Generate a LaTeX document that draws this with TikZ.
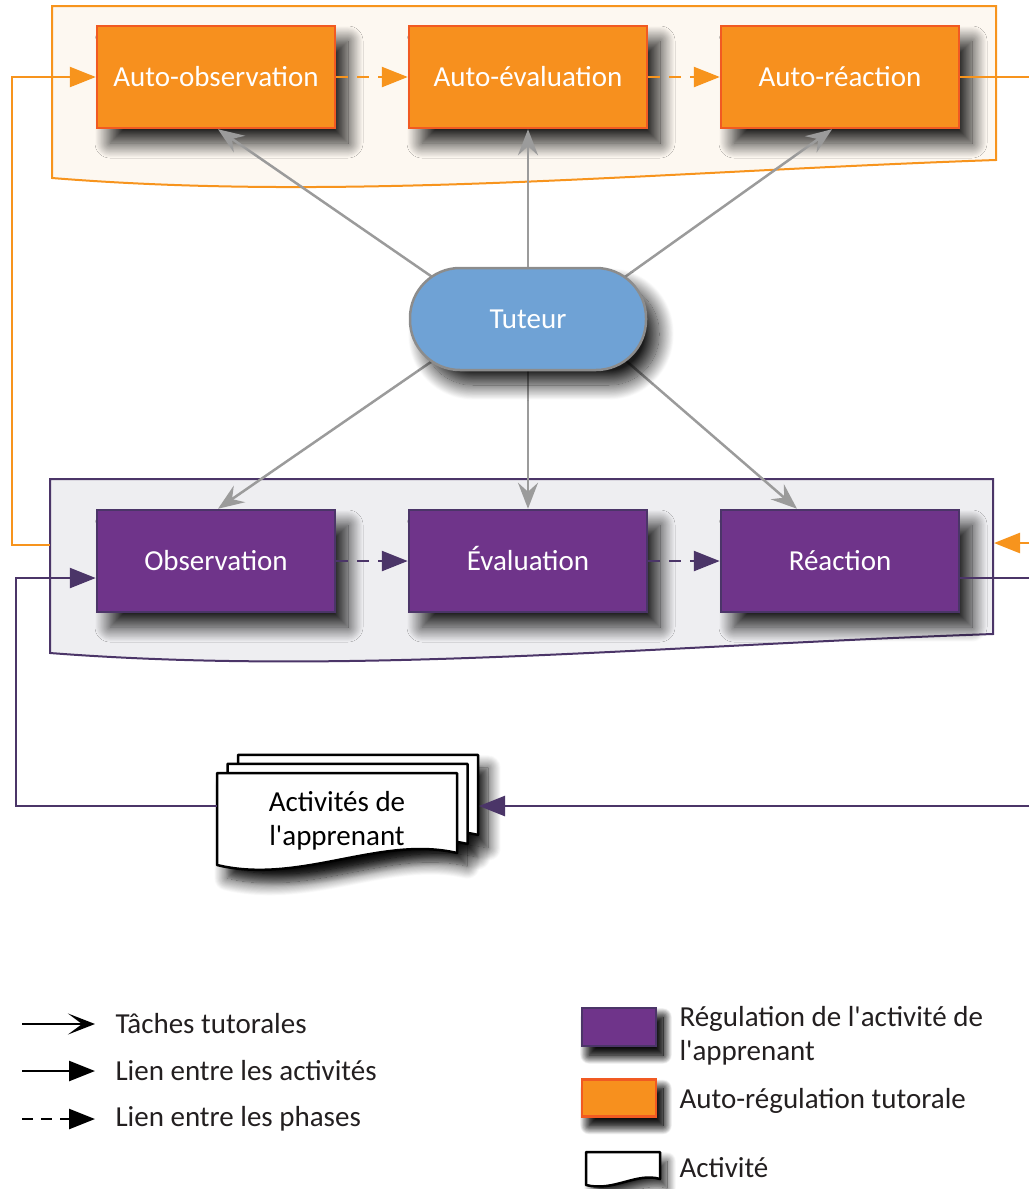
\documentclass[tikz,border=0pt]{standalone}
\usepackage{fontspec}
\newfontfamily\carlito{Carlito}
\usepackage{tikz}
\usetikzlibrary{arrows.meta,shadows.blur}

\definecolor{autofill}{HTML}{F7901E}
\definecolor{autoborder}{HTML}{F15A22}
\definecolor{autoline}{HTML}{F7941D}
\definecolor{autoback}{HTML}{FDF8F1}
\definecolor{regfill}{HTML}{6F348A}
\definecolor{regborder}{HTML}{4B3568}
\definecolor{regback}{HTML}{EEEEF1}
\definecolor{tutfill}{HTML}{6FA2D5}
\definecolor{tutborder}{HTML}{8C8C8C}
\definecolor{tachegray}{HTML}{9B9B9B}
\definecolor{legtextcol}{HTML}{231F20}

\tikzset{
  boxshade/.style={blur shadow={shadow xshift=13pt,shadow yshift=-15pt,shadow blur radius=15pt,
    shadow blur steps=25,shadow opacity=90}},
  autobox/.style={draw=autoborder,fill=autofill,line width=2.5pt,text=white,
    minimum width=238pt,minimum height=102pt,text height=19pt,text depth=0pt,boxshade},
  regbox/.style={draw=regborder,fill=regfill,line width=2.5pt,text=white,
    minimum width=238pt,minimum height=102pt,text height=19pt,text depth=0pt,boxshade},
  tutbox/.style={draw=tutborder,fill=tutfill,line width=2.5pt,text=white,
    minimum width=236pt,minimum height=102pt,rounded corners=50pt,boxshade},
  smallshade/.style={blur shadow={shadow xshift=7pt,shadow yshift=-9pt,shadow blur radius=9pt,
    shadow blur steps=20,shadow opacity=85}},
  docpage/.style={draw=black,fill=white,line width=2.5pt,line join=round},
  docshade/.style={blur shadow={shadow xshift=10pt,shadow yshift=-13pt,shadow blur radius=13pt,
    shadow blur steps=25,shadow opacity=85}},
  tache/.style={draw=tachegray,line width=2.5pt,-{Stealth[length=26pt,width=20pt,inset=9pt,fill=tachegray]}},
  lienauto/.style={draw=autoline,line width=2.5pt,-{Triangle[length=26pt,width=20pt,fill=autoline]}},
  lienreg/.style={draw=regborder,line width=2.5pt,-{Triangle[length=26pt,width=20pt,fill=regborder]}},
  phaseauto/.style={lienauto,dash pattern=on 12pt off 9pt},
  phasereg/.style={lienreg,dash pattern=on 12pt off 9pt},
  legline/.style={draw=black,line width=2.5pt},
  legtext/.style={anchor=west,align=left,text=legtextcol}
}

\begin{document}
\begin{tikzpicture}[x=1pt,y=-1pt,font=\carlito\fontsize{29}{34}\selectfont]
\useasboundingbox (0,0) rectangle (1029,1189);

% Containers
\filldraw[draw=autoline,fill=autoback,line width=2pt]
  (52,6) -- (996,6) -- (996,160) .. controls (650,172) and (350,202) .. (52,178) -- cycle;
\filldraw[draw=regborder,fill=regback,line width=2pt]
  (50,479) -- (993,479) -- (993,634) .. controls (650,646) and (350,676) .. (50,653) -- cycle;
\coordinate (boxL) at (50,545);
\coordinate (boxR) at (994,543);

% Auto-regulation phases
\node[autobox] (aobs) at (216,77) {Auto-observation};
\node[autobox] (aeva) at (528,77) {Auto-évaluation};
\node[autobox] (area) at (840,77) {Auto-réaction};

% Regulation phases
\node[regbox] (obs) at (216,561) {Observation};
\node[regbox] (eva) at (528,561) {Évaluation};
\node[regbox] (rea) at (840,561) {Réaction};

% Tutor tasks
\coordinate (tutc) at (528,319);
\draw[tache] ([xshift=-58pt,yshift=16pt]tutc) -- ([xshift=2pt]aobs.south);
\draw[tache] (tutc) -- (aeva.south);
\draw[tache] ([xshift=59pt,yshift=15pt]tutc) -- ([xshift=-8pt]area.south);
\draw[tache] ([xshift=-58pt,yshift=-16pt]tutc) -- ([xshift=2pt]obs.north);
\draw[tache] (tutc) -- (eva.north);
\draw[tache] ([xshift=59pt,yshift=-8pt]tutc) -- ([xshift=-43pt]rea.north);

% Tutor
\node[tutbox] (tut) at (tutc) {Tuteur};

% Links between phases
\draw[phaseauto] (aobs) -- (aeva);
\draw[phaseauto] (aeva) -- (area);
\draw[phasereg] (obs) -- (eva);
\draw[phasereg] (eva) -- (rea);

% Learner activities
\foreach \s in {21,10.5,0}
  \path[docshade,shift={(\s,-0.86*\s)}]
    (217,773) -- (457,773) -- (457,853) .. controls (380,835) and (300,885) .. (217,865) -- cycle;
\foreach \s in {21,10.5,0}
  \filldraw[docpage,shift={(\s,-0.86*\s)}]
    (217,773) -- (457,773) -- (457,853) .. controls (380,835) and (300,885) .. (217,865) -- cycle;
\node[align=center,minimum width=240pt,minimum height=92pt] (act) at (337,821) {Activités de\\l'apprenant};
\coordinate (docR) at (479,806);

% Links between activities
\coordinate (loopA) at (12,545);
\coordinate (loopB) at (16,806);
\coordinate (outA) at (1029,77);
\coordinate (outB) at (1029,543);
\coordinate (outC) at (1029,578);
\coordinate (outD) at (1029,806);
\draw[lienauto] (boxL) -- (loopA) |- (aobs.west);
\draw[draw=autoline,line width=2.5pt] (area.east) -- (outA);
\draw[lienauto] (outB) -- (boxR);
\draw[draw=regborder,line width=2.5pt] ([yshift=-17pt]rea.east) -- (outC);
\draw[lienreg] (outD) -- (docR);
\draw[lienreg] ([yshift=15pt]act.west) -- (loopB) |- ([yshift=-17pt]obs.west);

% Legend arrows
\coordinate (lgA1) at (22,1024);
\coordinate (lgA2) at (95,1024);
\coordinate (lgB1) at (22,1071);
\coordinate (lgB2) at (95,1071);
\coordinate (lgC1) at (22,1119);
\coordinate (lgC2) at (95,1119);
\draw[legline,-{Stealth[length=27pt,width=21pt,inset=14pt,fill=black]}] (lgA1) -- (lgA2);
\draw[legline,-{Triangle[length=26pt,width=20pt,fill=black]}] (lgB1) -- (lgB2);
\draw[legline,dash pattern=on 11pt off 8pt,-{Triangle[length=26pt,width=20pt,fill=black]}] (lgC1) -- (lgC2);
\node[legtext] (lgtA) at (112,1024) {Tâches tutorales};
\node[legtext] (lgtB) at (112,1071) {Lien entre les activités};
\node[legtext] (lgtC) at (112,1119) {Lien entre les phases};

% Legend boxes
\node[regbox,minimum width=74pt,minimum height=38pt,text height=0pt,text depth=0pt,smallshade] (lgreg) at (619,1027) {};
\node[autobox,minimum width=74pt,minimum height=37pt,text height=0pt,text depth=0pt,smallshade] (lgauto) at (619,1098) {};
\filldraw[docpage,smallshade]
  (586,1152) -- (660,1152) -- (660,1179) .. controls (636,1172) and (614,1192) .. (586,1185) -- cycle;
\node[legtext] (lgtreg) at (676,1036) {Régulation de l'activité de\\l'apprenant};
\node[legtext] (lgtauto) at (676,1101) {Auto-régulation tutorale};
\node[legtext] (lgtdoc) at (676,1168) {Activité};
\end{tikzpicture}
\end{document}
